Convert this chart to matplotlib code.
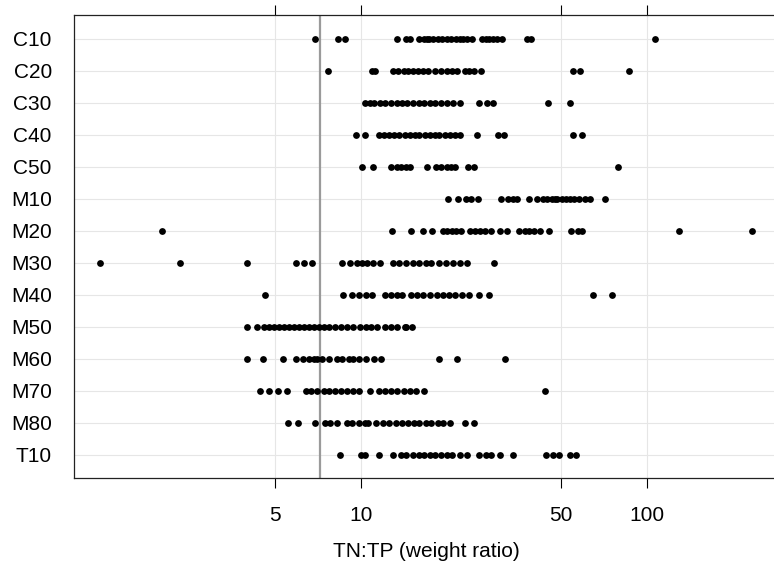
import numpy as np
import matplotlib.pyplot as plt
from matplotlib.ticker import NullLocator

plt.rcParams['font.family'] = ['Liberation Sans', 'DejaVu Sans']

# categories, top to bottom
categories = ['C10', 'C20', 'C30', 'C40', 'C50', 'M10', 'M20',
              'M30', 'M40', 'M50', 'M60', 'M70', 'M80', 'T10']

# TN:TP weight ratios
C10 = [6.92, 8.28, 8.79, 13.3, 14.4, 14.8, 16.0, 16.6, 17.0, 17.3, 17.9, 18.5,
       19.2, 19.9, 20.6, 21.4, 22.1, 22.7, 23.5, 24.4, 26.5, 27.3, 28.0, 29.0,
       30.0, 31.2, 37.9, 39.3, 107]
C20 = [7.64, 10.9, 11.2, 12.9, 13.5, 14.1, 14.6, 15.2, 15.8, 16.5, 17.2, 18.2,
       19.0, 19.9, 20.8, 21.7, 23.0, 23.9, 24.8, 26.3, 55.0, 58.1, 86.9]
C30 = [10.3, 10.7, 11.1, 11.6, 12.1, 12.7, 13.3, 13.9, 14.5, 15.2, 15.9, 16.6,
       17.4, 18.2, 19.1, 20.0, 21.0, 22.1, 25.8, 27.6, 29.0, 45.0, 54.0]
C40 = [9.6, 10.3, 11.5, 12.0, 12.5, 13.0, 13.6, 14.2, 14.8, 15.4, 16.0, 16.7,
       17.4, 18.1, 18.8, 19.6, 20.4, 21.3, 22.2, 25.4, 30.2, 31.5, 55.1, 59.4]
C50 = [10.1, 11.0, 12.7, 13.3, 13.8, 14.3, 14.8, 17.0, 18.3, 19.1, 19.9, 20.7,
       21.3, 23.6, 24.9, 79.3]
M10 = [20.2, 21.9, 23.3, 24.2, 25.6, 30.9, 32.6, 34.0, 35.2, 38.6, 41.3, 43.3,
       44.8, 46.5, 47.5, 48.6, 50.5, 52.0, 53.6, 55.6, 57.8, 60.5, 63.0, 71.1]
M20 = [2.01, 12.8, 14.9, 16.4, 17.7, 19.3, 20.0, 20.8, 21.5, 22.4, 24.0, 25.0,
       26.0, 27.1, 28.5, 30.5, 32.5, 35.6, 37.4, 38.6, 40.3, 42.3, 45.6, 54.4,
       57.2, 59.5, 129, 234]
M30 = [1.22, 2.33, 4.0, 5.92, 6.33, 6.72, 8.58, 9.13, 9.68, 10.1, 10.5, 11.0,
       11.6, 12.9, 13.6, 14.4, 15.2, 16.0, 16.8, 17.6, 18.8, 19.8, 20.9, 22.1,
       23.4, 29.2]
M40 = [4.62, 8.63, 9.3, 9.8, 10.4, 10.9, 12.1, 12.7, 13.3, 13.9, 14.9, 15.7,
       16.5, 17.4, 18.4, 19.3, 20.3, 21.3, 22.5, 23.8, 25.9, 28.1, 64.8, 75.4]
M50 = [3.99, 4.33, 4.57, 4.77, 4.96, 5.17, 5.38, 5.61, 5.84, 6.08, 6.33, 6.59,
       6.86, 7.14, 7.44, 7.74, 8.07, 8.5, 8.9, 9.4, 9.9, 10.4, 10.8, 11.4, 12.1,
       12.7, 13.3, 14.2, 14.4, 15.1]
M60 = [4.0, 4.53, 5.34, 5.93, 6.25, 6.55, 6.86, 7.03, 7.32, 7.74, 8.2, 8.6,
       9.1, 9.4, 9.8, 10.4, 11.1, 11.7, 18.8, 21.7, 31.9]
M70 = [4.41, 4.74, 5.13, 5.5, 6.4, 6.7, 7.0, 7.4, 7.7, 8.1, 8.5, 8.9, 9.4, 9.8,
       10.7, 11.5, 12.1, 12.7, 13.4, 14.1, 14.8, 15.6, 16.6, 44.1]
M80 = [5.53, 6.0, 6.9, 7.5, 7.8, 8.2, 8.9, 9.3, 9.8, 10.3, 10.6, 11.3, 11.9,
       12.5, 13.2, 13.9, 14.6, 15.3, 16.0, 16.8, 17.6, 18.5, 19.4, 20.5, 23.1,
       24.9]
T10 = [8.46, 10.0, 10.3, 11.5, 12.9, 13.8, 14.4, 15.2, 15.9, 16.6, 17.4, 18.2,
       19.0, 19.9, 20.8, 22.1, 23.5, 25.9, 27.4, 28.5, 30.5, 33.9, 44.5, 47.0,
       49.4, 53.6, 56.6]

rows = [C10, C20, C30, C40, C50, M10, M20, M30, M40, M50, M60, M70, M80, T10]

redfield = 7.2  # reference line
x_ticks = [5, 10, 50, 100]
x_tick_labels = ['5', '10', '50', '100']

fig = plt.figure(figsize=(7.74, 5.66), dpi=100)
# right edge of the panel runs past the figure, as in the original
ax = fig.add_axes([74 / 774, 87.7 / 566, 704.5 / 774, 463.6 / 566])

for i, vals in enumerate(rows):
    ax.scatter(vals, np.full(len(vals), i), s=24, color='black',
               linewidths=0, zorder=3)

ax.axvline(redfield, color='#9a9a9a', lw=1.6, zorder=2)

# log x scale, range padded 4% like the source
ax.set_xscale('log')
allv = np.concatenate([np.asarray(r, float) for r in rows])
lo, hi = np.log10(allv.min()), np.log10(allv.max())
pad = 0.04 * (hi - lo)
ax.set_xlim(10 ** (lo - pad), 10 ** (hi + pad))
ax.xaxis.set_minor_locator(NullLocator())
ax.set_xticks(x_ticks)
ax.set_xticklabels(x_tick_labels)

ax.set_yticks(range(len(categories)))
ax.set_yticklabels(categories)
ax.set_ylim(len(categories) - 0.26, -0.75)

ax.set_axisbelow(True)
ax.grid(True, color='#e6e6e6', lw=0.8)

fs = 15
ax.tick_params(axis='x', which='both', top=True, bottom=True, direction='out',
               length=7.5, width=0.8, labelsize=fs, pad=12.3, color='black')
ax.tick_params(axis='y', length=0, pad=16, labelsize=fs)

for side in ['left', 'top', 'bottom']:
    ax.spines[side].set_color('#222222')
    ax.spines[side].set_linewidth(0.9)
ax.spines['right'].set_visible(False)

ax.set_xlabel('TN:TP (weight ratio)', fontsize=fs, labelpad=12.5)

fig.savefig('out.png', dpi=100)
